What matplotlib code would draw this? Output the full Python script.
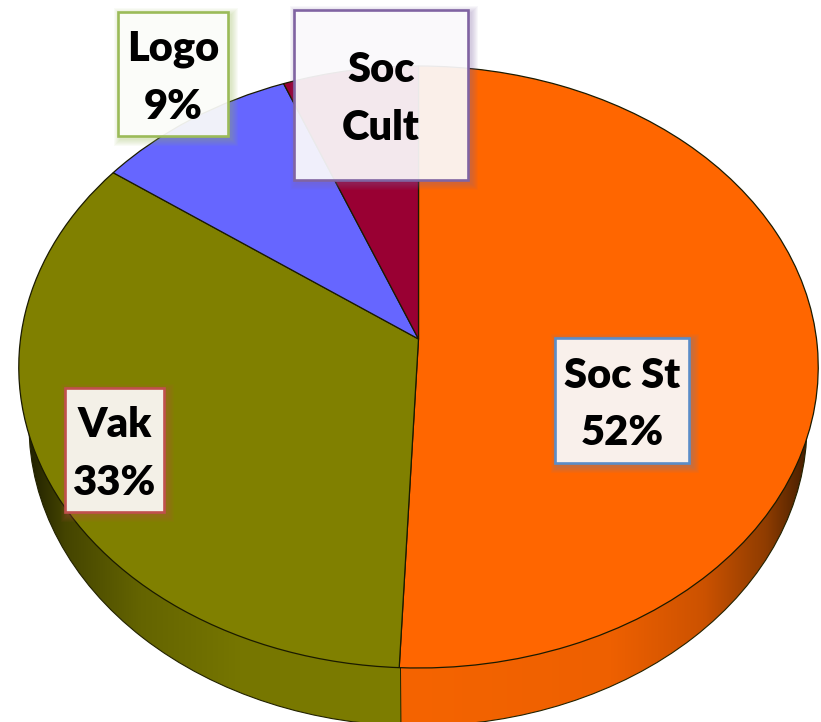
import numpy as np
import matplotlib
matplotlib.use("Agg")
import matplotlib.pyplot as plt
from matplotlib.patches import Ellipse, Rectangle
from matplotlib.path import Path
from matplotlib.transforms import Transform
from matplotlib.colors import LinearSegmentedColormap

# data
categories = ["Soc St", "Vak", "Logo", "Soc Cult"]
values = [50.7, 34.3, 9.0, 6.0]          # slice sizes as drawn
colors = ["#FF6600", "#808000", "#6666FF", "#990033"]
box_texts = ["Soc St\n52%", "Vak\n33%", "Logo\n9%", "Soc\nCult"]
box_edges = ["#5B8DC8", "#C0504D", "#9BBB59", "#8064A2"]

plt.rcParams["font.family"] = ["Lato", "DejaVu Sans"]
fig = plt.figure(figsize=(8.21, 7.22), dpi=100)
ax = fig.add_axes([0, 0, 1, 1])


class Tilt(Transform):
    """Perspective view of the unit pie onto pixel coordinates."""
    input_dims = output_dims = 2
    is_affine = False
    has_inverse = False
    CX, CY, A, B, K = 418.5, 339.0, 398.0, 298.4, 0.093

    def transform_non_affine(self, xy):
        xy = np.asarray(xy, float)
        w = 1 + self.K * xy[:, 1]
        return np.column_stack([self.CX + self.A * xy[:, 0] / w,
                                self.CY - self.B * xy[:, 1] / w])

    def transform_path_non_affine(self, path):
        return Path(self.transform_non_affine(path.vertices), path.codes)


wedges, _ = ax.pie(values, colors=colors, startangle=90, counterclock=False,
                   wedgeprops=dict(edgecolor="#1a1a00", linewidth=0.9))
tilt = Tilt() + ax.transData
for w in wedges:
    w.set_transform(tilt)
    w.set_zorder(3)
    w.set_clip_on(False)

# side wall
wall_cx, wall_cy, wall_rx, wall_ry = 418, 425, 389, 301
seam = 400.5


def wall(extent, stops):
    cmap = LinearSegmentedColormap.from_list("w", stops)
    im = ax.imshow(np.linspace(0, 1, 256).reshape(1, -1), cmap=cmap, vmin=0, vmax=1,
                   extent=extent, aspect="auto", zorder=1, interpolation="bilinear")
    e = Ellipse((wall_cx, wall_cy), 2 * wall_rx, 2 * wall_ry, transform=ax.transData)
    im.set_clip_path(e)


wall([0, seam, 730, 300], [(0, "#141400"), (0.08, "#242400"), (0.16, "#444400"),
                           (0.35, "#646400"), (0.6, "#767600"), (1, "#7e7e00")])
wall([seam, 821, 730, 300], [(0, "#F56400"), (0.5, "#EE6000"), (0.72, "#CC5200"),
                             (0.87, "#8E3C00"), (0.96, "#4a2000"), (1, "#301500")])
ax.add_patch(Ellipse((wall_cx, wall_cy), 2 * wall_rx, 2 * wall_ry, fill=False,
                     edgecolor="#222200", linewidth=0.8, zorder=2))
ax.plot([seam, seam + 0.5], [668, 730], color="#222200", linewidth=0.7, zorder=2)

# label boxes: x0, y0, x1, y1 in picture pixels
boxes_x0 = [555, 65, 118, 294]
boxes_y0 = [338, 388, 12, 10]
boxes_x1 = [689, 164, 228, 468]
boxes_y1 = [463, 512, 136, 180]

for txt, ec, x0, y0, x1, y1 in zip(box_texts, box_edges, boxes_x0, boxes_y0, boxes_x1, boxes_y1):
    for g in range(7, 0, -1):
        ax.add_patch(Rectangle((x0 + 3 - g, y0 + 3 - g), x1 - x0 + 2 * g, y1 - y0 + 2 * g,
                               facecolor=ec, edgecolor="none", alpha=0.05, zorder=4))
    ax.add_patch(Rectangle((x0, y0), x1 - x0, y1 - y0, facecolor="white", alpha=0.9,
                           edgecolor="none", zorder=5))
    ax.add_patch(Rectangle((x0, y0), x1 - x0, y1 - y0, fill=False, edgecolor=ec,
                           linewidth=1.9, zorder=6))
    ax.text((x0 + x1) / 2, (y0 + y1) / 2 + 4, txt, ha="center", va="center", ma="center",
            fontsize=30, fontweight="heavy", color="black", linespacing=1.62, zorder=7)

ax.set_aspect("auto")
ax.set_xlim(0, 821)
ax.set_ylim(722, 0)
ax.axis("off")
fig.savefig("out.png", dpi=100, facecolor="white")
